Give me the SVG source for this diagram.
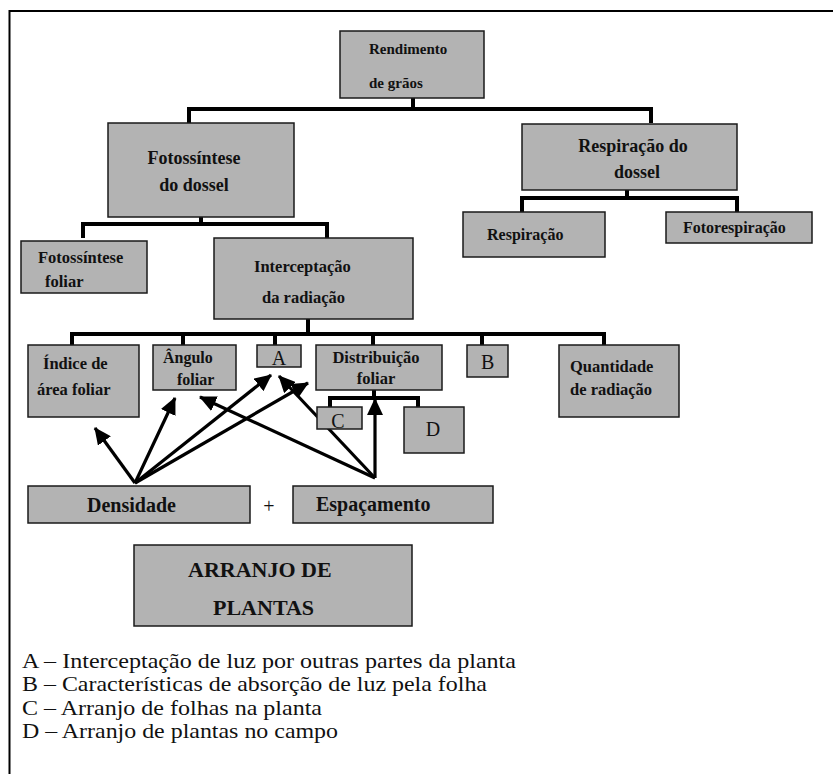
<svg xmlns="http://www.w3.org/2000/svg" width="833" height="774" viewBox="0 0 833 774">
<style>
.box{fill:#b3b3b3;stroke:#1a1a1a;stroke-width:1.5}
.b{font-family:"Liberation Serif","Times New Roman",serif;font-weight:bold;fill:#111}
.r{font-family:"Liberation Serif","Times New Roman",serif;fill:#111}
.tree{fill:none;stroke:#000;stroke-width:4}
.arr{fill:none;stroke:#000;stroke-width:3.2;marker-end:url(#ah)}
</style>
<defs>
<marker id="ah" markerUnits="userSpaceOnUse" markerWidth="18" markerHeight="16" viewBox="0 0 18 16" refX="16" refY="8" orient="auto">
<path d="M0,0 L17,8 L0,16 Z" fill="#000"/>
</marker>
</defs>
<rect width="833" height="774" fill="#fff"/>
<path d="M9.5,774 V11 H833" fill="none" stroke="#000" stroke-width="2"/>

<g id="connectors">
<path class="tree" d="M413,97 V109 M189,123 V109 H651 V123"/>
<path class="tree" d="M201,217 V224 M83,238 V224 H327 V238"/>
<path class="tree" d="M627,190 V198 M522,212 V198 H737 V212"/>
<path class="tree" d="M308,319 V334 M72,345 V334 H604 V345 M183,334 V345 M275,334 V345 M373,334 V345 M482,334 V345"/>
<path class="tree" d="M374,390 V398 M330,407 V398 H418 V407"/>
<line class="arr" x1="135" y1="483" x2="95" y2="428"/>
<line class="arr" x1="135" y1="483" x2="175" y2="398"/>
<line class="arr" x1="135" y1="483" x2="271" y2="375"/>
<line class="arr" x1="135" y1="483" x2="308" y2="383"/>
<line class="arr" x1="375" y1="478" x2="200" y2="397"/>
<line class="arr" x1="375" y1="478" x2="279" y2="376"/>
<line class="arr" x1="375" y1="478" x2="375" y2="399"/>
</g>

<g id="rendimento">
<rect class="box" x="340" y="31" width="144" height="67"/>
<text class="b" font-size="15" x="369" y="54">Rendimento</text>
<text class="b" font-size="15" x="369" y="88">de grãos</text>
</g>
<g id="fotossintese-dossel">
<rect class="box" x="108" y="123" width="186" height="94"/>
<text class="b" font-size="18" x="194" y="164" text-anchor="middle">Fotossíntese</text>
<text class="b" font-size="18" x="194" y="191" text-anchor="middle">do dossel</text>
</g>
<g id="respiracao-dossel">
<rect class="box" x="522" y="124" width="215" height="66"/>
<text class="b" font-size="18" x="633" y="152" text-anchor="middle">Respiração do</text>
<text class="b" font-size="18" x="637" y="178" text-anchor="middle">dossel</text>
</g>
<g id="respiracao">
<rect class="box" x="463" y="212" width="142" height="45"/>
<text class="b" font-size="16" x="487" y="240">Respiração</text>
</g>
<g id="fotorespiracao">
<rect class="box" x="666" y="212" width="146" height="31"/>
<text class="b" font-size="16" x="683" y="233">Fotorespiração</text>
</g>
<g id="fotossintese-foliar">
<rect class="box" x="21" y="241" width="126" height="52"/>
<text class="b" font-size="16.5" x="38" y="263">Fotossíntese</text>
<text class="b" font-size="16.5" x="45" y="287">foliar</text>
</g>
<g id="interceptacao">
<rect class="box" x="214" y="238" width="199" height="81"/>
<text class="b" font-size="16.5" x="254" y="272">Interceptação</text>
<text class="b" font-size="16.5" x="262" y="303">da radiação</text>
</g>
<g id="indice">
<rect class="box" x="28" y="345" width="111" height="72"/>
<text class="b" font-size="16.5" x="43" y="369">Índice de</text>
<text class="b" font-size="16.5" x="37" y="395">área foliar</text>
</g>
<g id="angulo">
<rect class="box" x="153" y="345" width="83" height="45"/>
<text class="b" font-size="16" x="163" y="363">Ângulo</text>
<text class="b" font-size="16" x="177" y="385">foliar</text>
</g>
<g id="a">
<rect class="box" x="257" y="345" width="44" height="22"/>
<text class="r" font-size="20" x="279" y="365" text-anchor="middle">A</text>
</g>
<g id="distribuicao">
<rect class="box" x="316" y="345" width="126" height="45"/>
<text class="b" font-size="16.5" x="376" y="363" text-anchor="middle">Distribuição</text>
<text class="b" font-size="16.5" x="376" y="384" text-anchor="middle">foliar</text>
</g>
<g id="b">
<rect class="box" x="467" y="345" width="41" height="32"/>
<text class="r" font-size="20" x="481" y="369">B</text>
</g>
<g id="quantidade">
<rect class="box" x="559" y="345" width="120" height="72"/>
<text class="b" font-size="16.5" x="570" y="372">Quantidade</text>
<text class="b" font-size="16.5" x="570" y="395">de radiação</text>
</g>
<g id="c">
<rect class="box" x="317" y="407" width="45" height="22"/>
<text class="r" font-size="20" x="338" y="428" text-anchor="middle">C</text>
</g>
<g id="d">
<rect class="box" x="404" y="407" width="60" height="46"/>
<text class="r" font-size="20" x="433" y="436" text-anchor="middle">D</text>
</g>
<g id="densidade">
<rect class="box" x="28" y="486" width="222" height="37"/>
<text class="b" font-size="20" x="87" y="512">Densidade</text>
</g>
<text class="r" font-size="20" x="269" y="513" text-anchor="middle">+</text>
<g id="espacamento">
<rect class="box" x="293" y="486" width="200" height="37"/>
<text class="b" font-size="20" x="316" y="511">Espaçamento</text>
</g>
<g id="arranjo">
<rect class="box" x="134" y="545" width="278" height="81"/>
<text class="b" font-size="22" x="188" y="577">ARRANJO DE</text>
<text class="b" font-size="22" x="213" y="615">PLANTAS</text>
</g>
<g id="legend">
<text class="r" font-size="21" x="22" y="668" textLength="494" lengthAdjust="spacingAndGlyphs">A – Interceptação de luz por outras partes da planta</text>
<text class="r" font-size="21" x="22" y="691" textLength="465" lengthAdjust="spacingAndGlyphs">B – Características de absorção de luz pela folha</text>
<text class="r" font-size="21" x="22" y="715" textLength="300" lengthAdjust="spacingAndGlyphs">C – Arranjo de folhas na planta</text>
<text class="r" font-size="21" x="22" y="738" textLength="316" lengthAdjust="spacingAndGlyphs">D – Arranjo de plantas no campo</text>
</g>
</svg>
